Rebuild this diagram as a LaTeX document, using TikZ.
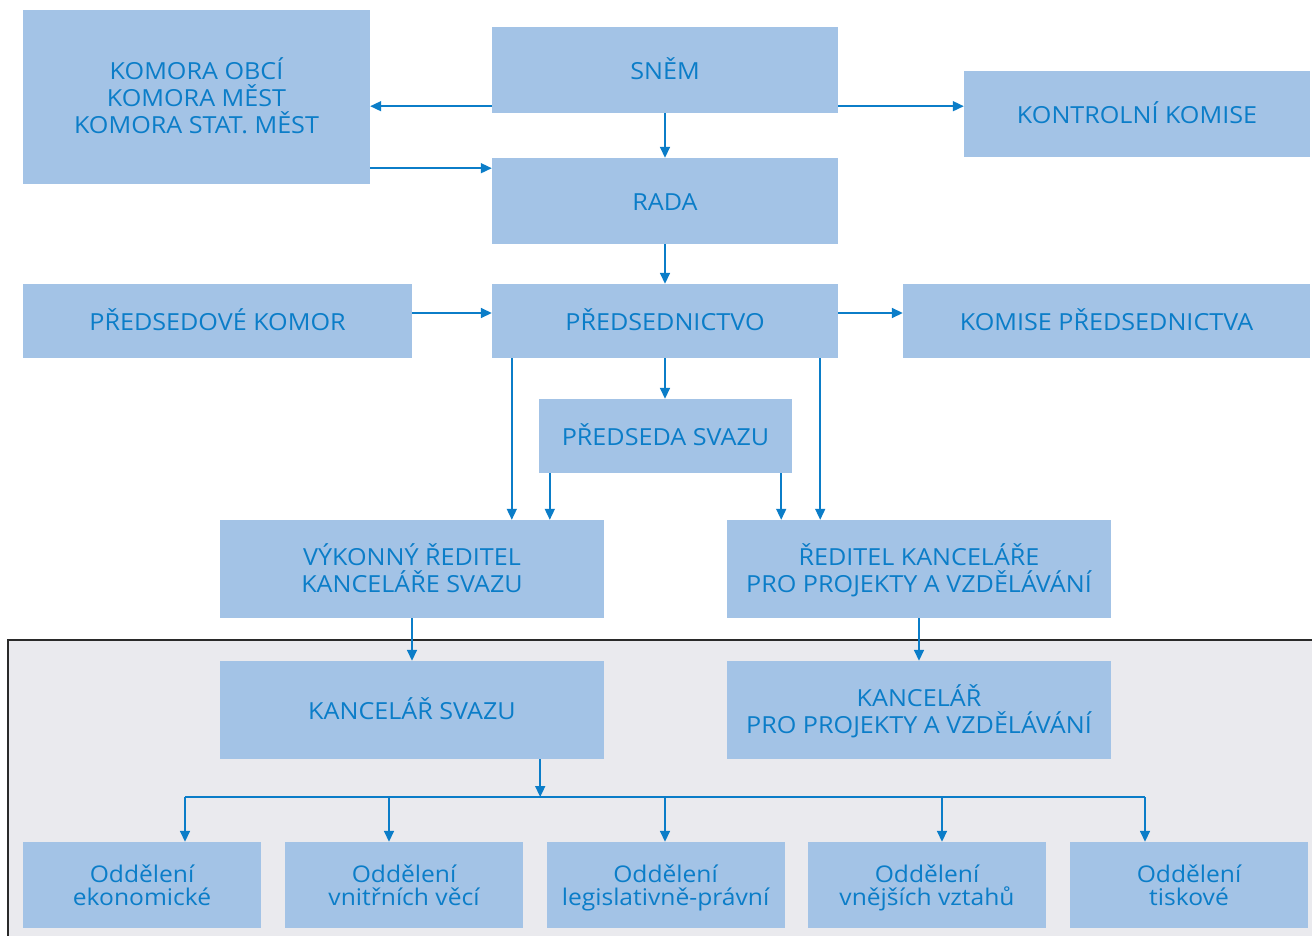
\documentclass[tikz,border=0pt]{standalone}
\usepackage{fontspec}
\setmainfont{Open Sans}[FakeStretch=1.07]
\usetikzlibrary{arrows.meta}
\definecolor{boxfill}{HTML}{A3C3E6}
\definecolor{txtblue}{HTML}{0B7DC8}
\definecolor{panel}{HTML}{EAEAEE}
\definecolor{frame}{HTML}{2A2A2A}
% struts placed inside first / last text line
\newcommand\tstrut{\rule{0pt}{26pt}}
\newcommand\bstrut{\rule[-6.5pt]{0pt}{6.5pt}}
\newcommand\dtstrut{\rule{0pt}{25pt}}
\newcommand\dbstrut{\rule[-8pt]{0pt}{8pt}}
\tikzset{
  box/.style={fill=boxfill, draw=none, inner sep=0pt, align=center, text=txtblue,
    font=\fontsize{23.5}{27}\selectfont},
  dept/.style={fill=boxfill, draw=none, inner sep=0pt, align=center, text=txtblue,
    minimum width=238, minimum height=86, font=\fontsize{23}{23}\selectfont},
  arr/.style={draw=txtblue, line width=1.6pt, -{Triangle[length=11pt,width=10pt]}},
  ln/.style={draw=txtblue, line width=1.6pt}
}
\begin{document}
\begin{tikzpicture}[x=1pt,y=-1pt]
\useasboundingbox (0,0) rectangle (1312,936);
\fill[white] (0,0) rectangle (1312,936);
% lower panel
\draw[fill=panel, draw=frame, line width=1.4pt] (8,640) rectangle (1330,960);

% boxes
\node[box, minimum width=347, minimum height=174] (komora) at (196.5,97) {\tstrut KOMORA OBCÍ\\KOMORA MĚST\\KOMORA STAT. MĚST\bstrut};
\node[box, minimum width=346, minimum height=86] (snem) at (665,70) {\tstrut SNĚM\bstrut};
\node[box, minimum width=346, minimum height=86] (kontrol) at (1137,114) {\tstrut KONTROLNÍ KOMISE\bstrut};
\node[box, minimum width=346, minimum height=86] (rada) at (665,201) {\tstrut RADA\bstrut};
\node[box, minimum width=389, minimum height=74] (predsedove) at (217.5,321) {\tstrut PŘEDSEDOVÉ KOMOR\bstrut};
\node[box, minimum width=346, minimum height=74] (predsednictvo) at (665,321) {\tstrut PŘEDSEDNICTVO\bstrut};
\node[box, minimum width=407, minimum height=74] (komise) at (1106.5,321) {\tstrut KOMISE PŘEDSEDNICTVA\bstrut};
\node[box, minimum width=253, minimum height=74] (predseda) at (665.5,436) {\tstrut PŘEDSEDA SVAZU\bstrut};
\node[box, minimum width=384, minimum height=98] (vykonny) at (412,569) {\tstrut VÝKONNÝ ŘEDITEL\\KANCELÁŘE SVAZU\bstrut};
\node[box, minimum width=384, minimum height=98] (reditel) at (919,569) {\tstrut ŘEDITEL KANCELÁŘE\\PRO PROJEKTY A VZDĚLÁVÁNÍ\bstrut};
\node[box, minimum width=384, minimum height=98] (kancsvazu) at (412,710) {\tstrut KANCELÁŘ SVAZU\bstrut};
\node[box, minimum width=384, minimum height=98] (kancproj) at (919,710) {\tstrut KANCELÁŘ\\PRO PROJEKTY A VZDĚLÁVÁNÍ\bstrut};

\node[dept] (o1) at (142,885) {\dtstrut Oddělení\\ekonomické\dbstrut};
\node[dept] (o2) at (404,885) {\dtstrut Oddělení\\vnitřních věcí\dbstrut};
\node[dept] (o3) at (665.5,885) {\dtstrut Oddělení\\legislativně-právní\dbstrut};
\node[dept] (o4) at (927,885) {\dtstrut Oddělení\\vnějších vztahů\dbstrut};
\node[dept] (o5) at (1189,885) {\dtstrut Oddělení\\tiskové\dbstrut};

% top connectors
\draw[arr] ([yshift=7]snem.south west) -- ([yshift=7]snem.south west -| komora.east);
\draw[arr] ([yshift=16]komora.south east) -- ([yshift=16]komora.south east -| rada.west);
\draw[arr] ([yshift=7]snem.south east) -- ([yshift=7]snem.south east -| kontrol.west);
\draw[arr] (snem.south) -- (rada.north);
\draw[arr] (rada.south) -- (predsednictvo.north);
\draw[arr] ([yshift=8]predsedove.east) -- ([yshift=8]predsednictvo.west);
\draw[arr] ([yshift=8]predsednictvo.east) -- ([yshift=8]komise.west);
\draw[arr] (predsednictvo.south) -- (predsednictvo.south |- predseda.north);
\draw[arr] ([xshift=20]predsednictvo.south west) -- ([xshift=20]predsednictvo.south west |- vykonny.north);
\draw[arr] ([xshift=11]predseda.south west) -- ([xshift=11]predseda.south west |- vykonny.north);
\draw[arr] ([xshift=-11]predseda.south east) -- ([xshift=-11]predseda.south east |- reditel.north);
\draw[arr] ([xshift=-18]predsednictvo.south east) -- ([xshift=-18]predsednictvo.south east |- reditel.north);
\draw[arr] (vykonny.south) -- (kancsvazu.north);
\draw[arr] (reditel.south) -- (kancproj.north);

% bus
\coordinate (b1) at (185,797);
\coordinate (b2) at (389,797);
\coordinate (b3) at (665,797);
\coordinate (b4) at (942,797);
\coordinate (b5) at (1145,797);
\draw[arr] ([xshift=-64]kancsvazu.south east) -- ([xshift=-64]kancsvazu.south east |- b1);
\draw[ln] (b1) -- (b5);
\draw[arr] (b1) -- (b1 |- o1.north);
\draw[arr] (b2) -- (b2 |- o2.north);
\draw[arr] (b3) -- (b3 |- o3.north);
\draw[arr] (b4) -- (b4 |- o4.north);
\draw[arr] (b5) -- (b5 |- o5.north);
\end{tikzpicture}
\end{document}
